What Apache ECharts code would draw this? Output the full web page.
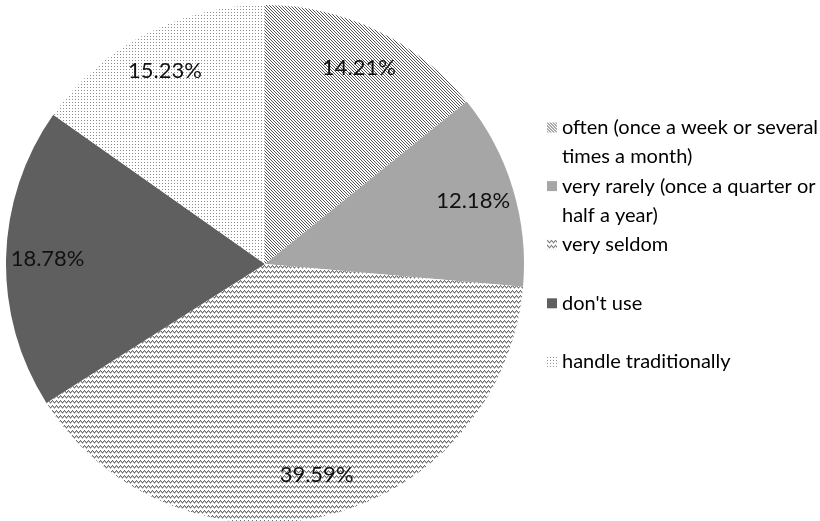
<!DOCTYPE html>
<html>
<head>
<meta charset="utf-8">
<script src="https://cdn.jsdelivr.net/npm/echarts@6/dist/echarts.min.js"></script>
<style>
  html, body { margin: 0; padding: 0; background: #fff; }
  #chart { width: 820px; height: 521px; }
</style>
</head>
<body>
<div id="chart"></div>
<script>
// Usage frequency shares (percent)
const categories = [
  'often (once a week or several\ntimes a month)',
  'very rarely (once a quarter or\nhalf a year)',
  'very seldom',
  "don't use",
  'handle traditionally'
];
const values = [14.21, 12.18, 39.59, 18.78, 15.23];

// Small repeating tiles used as fills; each pixel is [x, y, colour]
function tile(w, h, pixels) {
  const c = document.createElement('canvas');
  c.width = w; c.height = h;
  const g = c.getContext('2d');
  g.fillStyle = '#ffffff';
  g.fillRect(0, 0, w, h);
  pixels.forEach(p => { g.fillStyle = p[2]; g.fillRect(p[0], p[1], 1, 1); });
  return { image: c, repeat: 'repeat' };
}

const fills = [
  // diagonal hatch
  tile(3, 3, [[0, 0, '#555555'], [1, 1, '#555555'], [2, 2, '#555555']]),
  // solid light grey
  '#a6a6a6',
  // zigzag
  tile(4, 5, [
    [0, 0, '#707070'], [1, 1, '#707070'], [2, 2, '#707070'], [3, 1, '#707070'],
    [0, 1, '#b4b4b4'], [1, 2, '#b4b4b4'], [2, 3, '#b4b4b4'], [3, 2, '#b4b4b4']
  ]),
  // solid dark grey
  '#5f5f5f',
  // dots
  tile(3, 3, [[0, 0, '#8c8c8c']])
];

const LINE = 29;
const font = 'Lato, "Open Sans", sans-serif';

const chart = echarts.init(document.getElementById('chart'), null, { renderer: 'canvas' });

chart.setOption({
  animation: false,
  backgroundColor: '#ffffff',
  legend: {
    orient: 'vertical',
    left: 547,
    top: 84,
    padding: 0,
    icon: 'rect',
    itemWidth: 10,
    itemHeight: 10,
    itemGap: 58.6 - 3 * LINE,
    selectedMode: false,
    data: categories,
    // every entry occupies three text lines so the swatch sits on its first line
    formatter: name => name.indexOf('\n') >= 0 ? '\n' + name : '\n' + name + '\n',
    textStyle: {
      fontFamily: font,
      fontSize: 20,
      lineHeight: LINE,
      color: '#000000',
      backgroundColor: 'transparent'
    }
  },
  series: [
    {
      type: 'pie',
      center: [265, 264],
      radius: [0, 259],
      startAngle: 90,
      clockwise: true,
      silent: true,
      label: { show: false },
      labelLine: { show: false },
      itemStyle: { borderWidth: 0 },
      data: categories.map((name, i) => ({
        name: name,
        value: values[i],
        itemStyle: { color: fills[i] }
      }))
    },
    {
      // value labels placed along an outer ring of the same slices
      type: 'pie',
      center: [265, 264],
      radius: [170, 259],
      startAngle: 90,
      clockwise: true,
      silent: true,
      legendHoverLink: false,
      itemStyle: { color: 'rgba(0,0,0,0)', borderWidth: 0 },
      label: {
        show: true,
        position: 'inside',
        formatter: p => p.value.toFixed(2) + '%',
        fontFamily: font,
        fontSize: 22,
        color: '#111111'
      },
      labelLine: { show: false },
      data: categories.map((name, i) => ({ name: name, value: values[i] }))
    }
  ]
});
</script>
</body>
</html>
